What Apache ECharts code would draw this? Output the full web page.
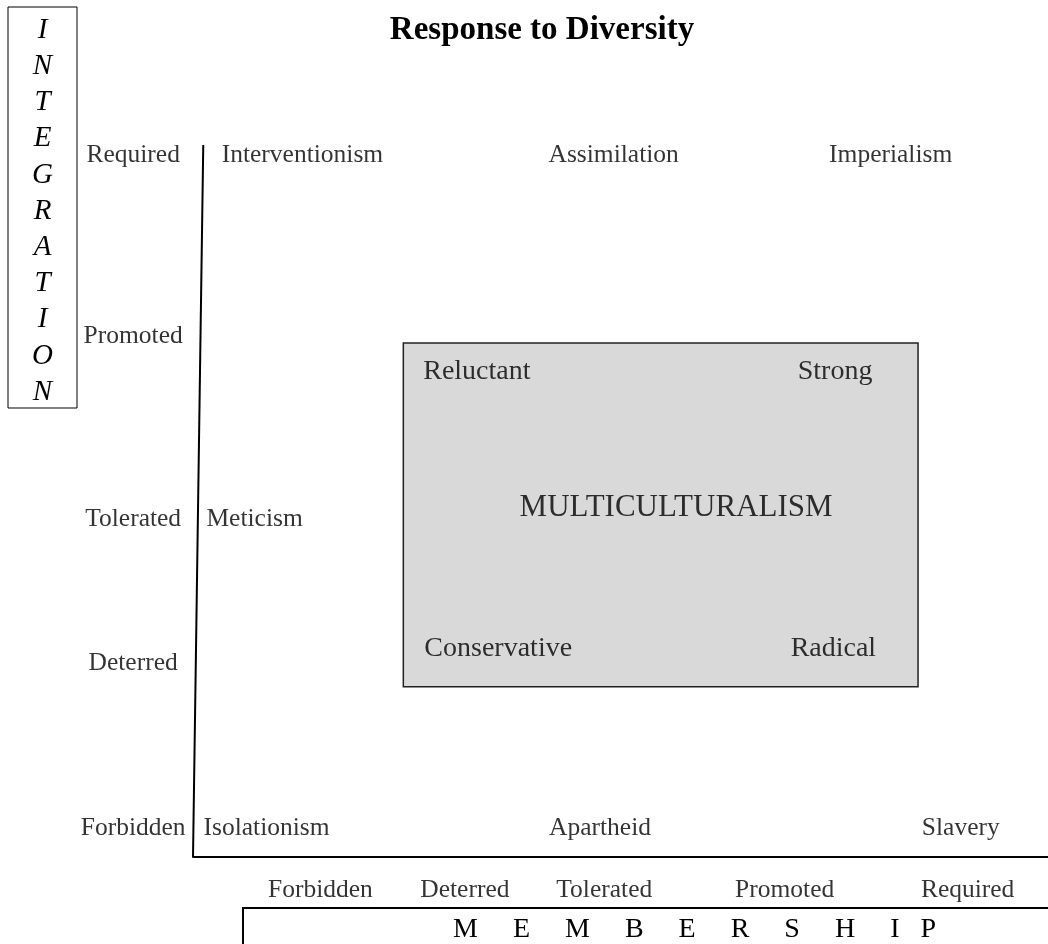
<!DOCTYPE html>
<html>
<head>
<meta charset="utf-8">
<title>Response to Diversity</title>
<script src="https://cdn.jsdelivr.net/npm/echarts@6/dist/echarts.min.js"></script>
<style>
  html, body { margin: 0; padding: 0; background: #fff; }
  #main { width: 1048px; height: 944px; }
</style>
</head>
<body>
<div id="main"></div>
<script>
// both axes run 0..100 (membership across, integration up)
var integrationLevels = ['Forbidden', 'Deterred', 'Tolerated', 'Promoted', 'Required']
var integrationPos = [4.4, 27.5, 47.8, 73.5, 98.9]
var membershipLevels = ['Forbidden', 'Deterred', 'Tolerated', 'Promoted', 'Required']
var membershipPos = [14.9, 31.8, 48.1, 69.2, 90.6]

var responses = ['Interventionism', 'Assimilation', 'Imperialism', 'Meticism', 'Isolationism', 'Apartheid', 'Slavery']
var responseX = [12.8, 49.2, 81.6, 7.2, 8.6, 47.6, 89.8]
var responseY = [98.9, 98.9, 98.9, 47.8, 4.4, 4.4, 4.4]

var multiKinds = ['Reluctant', 'Strong', 'Conservative', 'Radical']
var multiX = [33.2, 75.1, 35.7, 74.9]
var multiY = [68.5, 68.5, 29.6, 29.6]
var multiCentre = [56.5, 49.4]
var multiBox = [[24.6, 72.2], [84.8, 23.9]]

var yLineTop = [1.2, 100]
var yLineBottom = [0, 0]

var serif = '"Liberation Serif", "Times New Roman", serif'

function pts(names, xs, ys) {
  return names.map(function(n, i) {
    return { name: n, value: [xs[i], ys[i]] }
  })
}

var labelStyle = function(size) {
  return {
    show: true,
    position: 'inside',
    offset: [0, 2.5],
    formatter: '{b}',
    color: '#000',
    textBorderWidth: 0,
    fontFamily: serif,
    fontSize: size
  }
}

var chart = echarts.init(document.getElementById('main'))

var option = {
  backgroundColor: '#fff',
  animation: false,
  title: {
    text: 'Response to Diversity',
    left: 542,
    top: 14,
    textAlign: 'center',
    padding: 0,
    textStyle: {
      fontFamily: serif,
      fontWeight: 'bold',
      fontSize: 33,
      color: '#000'
    }
  },
  grid: {
    left: 193,
    right: 0,
    top: 145,
    bottom: 87
  },
  xAxis: {
    type: 'value',
    min: 0,
    max: 100,
    axisLine: { show: true, lineStyle: { color: '#000', width: 2 } },
    axisTick: { show: false },
    axisLabel: { show: false },
    splitLine: { show: false }
  },
  yAxis: {
    type: 'value',
    min: 0,
    max: 100,
    show: false
  },
  graphic: [
    {
      type: 'rect',
      shape: { x: 8, y: 7, width: 69, height: 401 },
      style: { fill: '#fff', stroke: '#000', lineWidth: 1 }
    },
    {
      type: 'text',
      x: 42.5,
      y: 12,
      style: {
        text: 'INTEGRATION'.split('').join('\n'),
        align: 'center',
        verticalAlign: 'top',
        lineHeight: 36.2,
        fill: '#000',
        fontFamily: serif,
        fontStyle: 'italic',
        fontSize: 29
      }
    },
    {
      type: 'polyline',
      shape: { points: [[243, 960], [243, 908], [1060, 908]] },
      style: { fill: null, stroke: '#000', lineWidth: 2 }
    },
    {
      type: 'text',
      x: 453,
      y: 930,
      style: {
        text: 'M     E     M     B     E     R     S     H     I   P',
        align: 'left',
        verticalAlign: 'middle',
        fill: '#000',
        fontFamily: serif,
        fontSize: 28
      }
    }
  ],
  series: [
    {
      name: 'integration axis',
      type: 'line',
      symbol: 'none',
      silent: true,
      lineStyle: { color: '#000', width: 2 },
      data: [yLineTop, yLineBottom]
    },
    {
      name: 'integration ticks',
      type: 'scatter',
      symbolSize: 0,
      clip: false,
      silent: true,
      label: labelStyle(25.5),
      data: integrationLevels.map(function(n, i) {
        return { name: n, value: [-7, integrationPos[i]] }
      })
    },
    {
      name: 'membership ticks',
      type: 'scatter',
      symbolSize: 0,
      clip: false,
      silent: true,
      label: labelStyle(25.5),
      data: membershipLevels.map(function(n, i) {
        return { name: n, value: [membershipPos[i], -4.35] }
      })
    },
    {
      name: 'responses',
      type: 'scatter',
      symbolSize: 0,
      silent: true,
      label: labelStyle(25.5),
      data: pts(responses, responseX, responseY)
    },
    {
      name: 'multiculturalism',
      type: 'scatter',
      symbolSize: 0,
      silent: true,
      label: labelStyle(28),
      markArea: {
        silent: true,
        itemStyle: { color: '#d9d9d9', borderColor: '#222', borderWidth: 1.5 },
        data: [[{ coord: multiBox[0] }, { coord: multiBox[1] }]]
      },
      data: pts(multiKinds, multiX, multiY)
    },
    {
      name: 'multiculturalism title',
      type: 'scatter',
      symbolSize: 0,
      silent: true,
      z: 5,
      label: labelStyle(31),
      data: [{ name: 'MULTICULTURALISM', value: multiCentre }]
    }
  ]
}

chart.setOption(option)
</script>
</body>
</html>
